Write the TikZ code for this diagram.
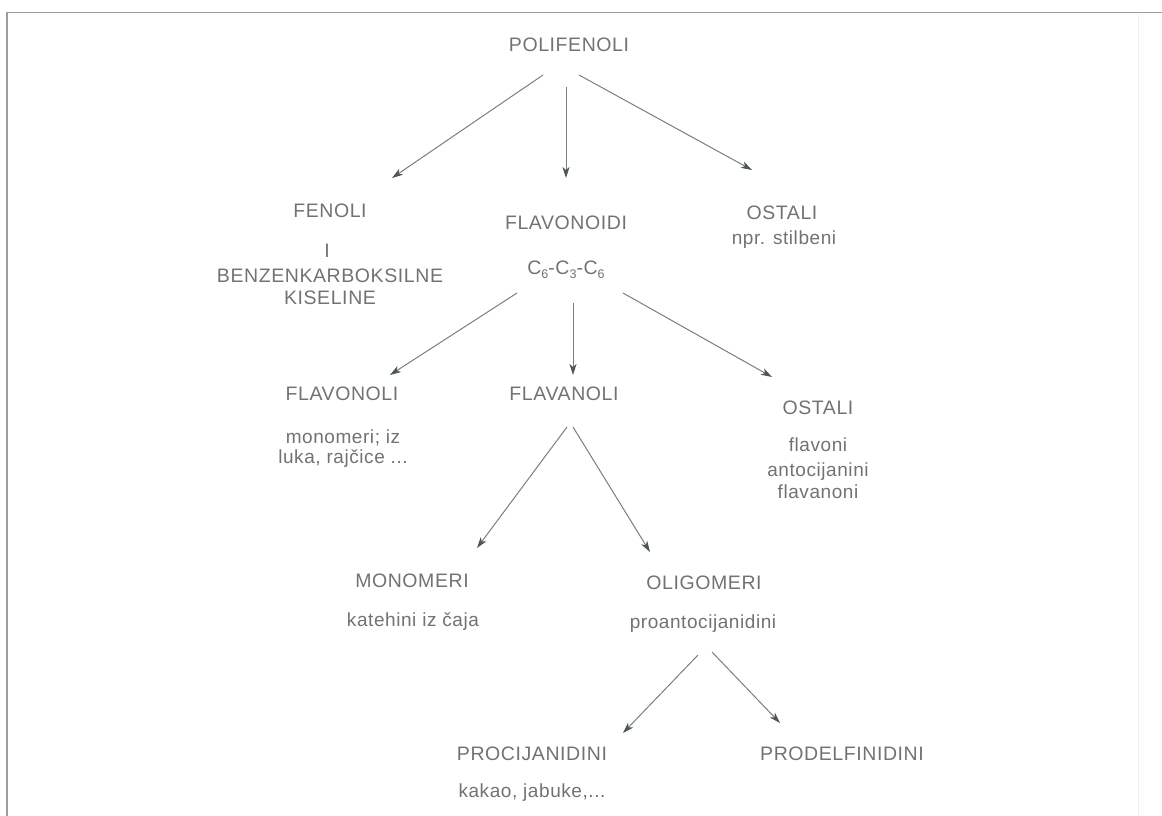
\documentclass[tikz,border=0pt]{standalone}
\usepackage{fontspec}
\setmainfont{Liberation Sans}
\newfontfamily\capsfont[LetterSpace=3]{Liberation Sans}
\newfontfamily\lowfont[LetterSpace=3]{Liberation Sans}
\usetikzlibrary{arrows.meta,calc}
\definecolor{txt}{HTML}{727272}
\definecolor{ln}{HTML}{7A7F7C}
\definecolor{tip}{HTML}{4A5A50}
\newcommand{\subsc}[1]{\raisebox{-4.5pt}{\fontsize{12.5}{12.5}\selectfont #1}}
\begin{document}
\begin{tikzpicture}[x=1pt,y=-1pt,
 captxt/.style={font=\capsfont\fontsize{19.5}{23}\selectfont, text=txt, inner sep=0pt, anchor=base},
 lowtxt/.style={font=\lowfont\fontsize{19}{23}\selectfont, text=txt, inner sep=0pt, anchor=base},
 arr/.style={draw=ln, line width=1pt, -{Stealth[length=11pt,width=7pt,inset=3pt,color=tip]}}]
\useasboundingbox (0,0) rectangle (1162,816);
\draw[draw=black!38, line width=1.5pt] (7,816) -- (7,12.5) -- (1162,12.5);
\draw[draw=black!6, line width=1pt] (1138,14) -- (1138,816);

% level 0
\node[captxt] (poli) at (569,52) {POLIFENOLI};
% level 1
\node[captxt] (fenoli) at (330,217) {FENOLI};
\node[captxt] (fenI) at (327,257) {I};
\node[captxt] (benz) at (330,282) {BENZENKARBOKSILNE};
\node[captxt] (kis) at (330,304) {KISELINE};
\node[captxt] (flavonoidi) at (566,229) {FLAVONOIDI};
\node[captxt] (c6) at (566,274) {C\subsc{6}-C\subsc{3}-C\subsc{6}};
\node[captxt] (ostali1) at (782,219) {OSTALI};
\node[lowtxt] (stilbeni) at (784,244) {npr. stilbeni};
% level 2
\node[captxt] (flavonoli) at (342,400) {FLAVONOLI};
\node[lowtxt] (mono1) at (343,443) {monomeri; iz};
\node[lowtxt] (luka) at (343,463) {luka, rajčice ...};
\node[captxt] (flavanoli) at (564,400) {FLAVANOLI};
\node[captxt] (ostali2) at (818,414) {OSTALI};
\node[lowtxt] (flavoni) at (818,451) {flavoni};
\node[lowtxt] (antoc) at (818,476) {antocijanini};
\node[lowtxt] (flavanoni) at (818,498) {flavanoni};
% level 3
\node[captxt] (monomeri) at (412,587) {MONOMERI};
\node[lowtxt] (katehini) at (413,626) {katehini iz čaja};
\node[captxt] (oligomeri) at (704,589) {OLIGOMERI};
\node[lowtxt] (proanto) at (703,628) {proantocijanidini};
% level 4
\node[captxt] (procij) at (532,760) {PROCIJANIDINI};
\node[lowtxt] (kakao) at (532,797) {kakao, jabuke,...};
\node[captxt] (prodelf) at (842,760) {PRODELFINIDINI};

% connectors
\draw[arr] ($(poli.base)+(-26,23)$) -- ($(fenoli.base)+(62,-39)$);
\draw[arr] ($(poli.base)+(-3,35)$) -- ($(flavonoidi.base)+(0,-51)$);
\draw[arr] ($(poli.base)+(10,23)$) -- ($(ostali1.base)+(-30,-49)$);

\draw[arr] ($(c6.base)+(-49,19)$) -- ($(flavonoli.base)+(48,-25)$);
\draw[arr] ($(c6.base)+(7,29)$) -- ($(flavanoli.base)+(9,-25)$);
\draw[arr] ($(c6.base)+(57,19)$) -- ($(ostali2.base)+(-46,-37)$);

\draw[arr] ($(flavanoli.base)+(3,27)$) -- ($(monomeri.base)+(65,-39)$);
\draw[arr] ($(flavanoli.base)+(9,27)$) -- ($(oligomeri.base)+(-54,-37)$);

\draw[arr] ($(proanto.base)+(-5,27)$) -- ($(procij.base)+(91,-27)$);
\draw[arr] ($(proanto.base)+(9,24)$) -- ($(prodelf.base)+(-62,-37)$);
\end{tikzpicture}
\end{document}
